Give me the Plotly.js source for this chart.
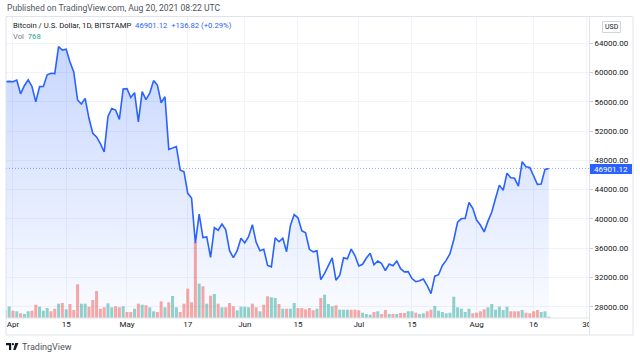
<!DOCTYPE html>
<html><head><meta charset="utf-8">
<script src="https://cdn.plot.ly/plotly-3.0.1.min.js"></script>
<style>html,body{margin:0;padding:0;background:#fff}#chart{width:640px;height:358px}</style>
</head><body><div id="chart"></div>
<script>
// ---------------- DATA ----------------
const startDate = '2021-03-29';            // first daily close in the series
const closePrices = [
  57600, 58750, 58800,
  // April
  58750, 58980, 57100, 58200, 59000, 58100, 56000, 58080, 58100, 59700,
  59900, 59850, 63550, 63080, 63200, 61450, 60100, 56250, 55700, 56480,
  53750, 51700, 51200, 50300, 49150, 54000, 55100, 54880, 53600, 57750,
  // May
  57800, 56600, 57250, 53250, 57400, 56300, 57200, 58900, 58300, 55880,
  56700, 49500, 49700, 49900, 46700, 46450, 43500, 42850, 36700, 40650,
  37450, 37550, 34750, 38800, 38450, 39300, 38500, 35650, 34700, 35650, 37350,
  // June
  36720, 37560, 39220, 36800, 35650, 35850, 33650, 33450, 37420, 36880,
  37350, 35520, 39080, 40600, 40150, 38400, 38100, 35850, 35500, 35650,
  31700, 32550, 33700, 34680, 31620, 32300, 34680, 34550, 35880, 35000,
  // July
  33580, 33800, 34650, 35300, 33720, 34250, 33900, 32950, 33830, 33600,
  34250, 33200, 32760, 32800, 31850, 31420, 31560, 31780, 30900, 29800,
  32180, 32380, 33650, 34330, 35250, 37150, 39550, 40050, 40050, 42250, 41450,
  // August
  39850, 39170, 38230, 39700, 40950, 42830, 44620, 43900, 46250, 45620,
  45550, 44480, 47820, 47130, 47030, 45900, 44720, 44780, 46764, 46901.12
];
// daily volume (BTC), starting 2021-03-30
const volumes = [
  5160, 6960, 4380, 4020, 2820, 2400, 4020, 4380, 7980, 6780,
  4380, 6000, 4020, 5580, 8580, 9000, 5220, 8400, 4800, 20220,
  8580, 8580, 6780, 10800, 16200, 5580, 6420, 8820, 6420, 7020,
  6420, 7020, 3600, 3600, 5580, 8580, 7980, 7620, 6420, 4020,
  3600, 10020, 6420, 9420, 13200, 6420, 3600, 8580, 17580, 9420,
  45600, 20580, 19020, 8580, 13380, 14400, 8580, 6420, 6420, 9000,
  7020, 4620, 6780, 6780, 6420, 8580, 6420, 4020, 7980, 13020,
  12420, 12000, 8400, 5580, 5580, 5580, 9000, 6000, 6000, 5220,
  6000, 4620, 5580, 12000, 13980, 8400, 7020, 7620, 4980, 4980,
  4980, 4980, 4980, 4620, 3180, 2400, 1980, 3600, 4020, 2400,
  4800, 2400, 2400, 2400, 3000, 3000, 4020, 4020, 3180, 2400,
  2820, 4020, 4980, 7200, 4380, 3600, 2820, 3180, 12780, 6420,
  5580, 3600, 5580, 2820, 3180, 4020, 5220, 6420, 8400, 4980,
  6780, 4800, 6780, 4020, 4020, 4020, 4800, 3180, 2820, 4020,
  4800, 3600, 4020, 768
];
// bar direction per day: T = up (teal), R = down (red)
const volDir =
  "TTRTRTTRRT" + "TTRRTRTRRR" + "TTRRRRRTTR" + "RTRRTRTRTT" + "RRTRTTRRRR" +
  "RTRTRTRTRR" + "RTTTTRRTRR" + "TTRTRTTRRR" + "RRTRTTTRTT" + "TRRRTTTRTR" +
  "RTRTRRTTRT" + "TRRTTTTTTT" + "TTTRRRRTTT" + "TTTRRRTRRR" + "RTTT";
const priceTicks = [28000, 32000, 36000, 40000, 44000, 48000, 52000, 56000, 60000, 64000];
const timeTickDates = ['2021-04-01','2021-04-15','2021-05-01','2021-05-17','2021-06-01',
  '2021-06-15','2021-07-01','2021-07-15','2021-08-01','2021-08-16','2021-08-30'];
const timeTickLabels = ['Apr','15','May','17','Jun','15','Jul','15','Aug','16','30'];
const lastPrice = 46901.12, priceChange = 136.82, priceChangePct = 0.29, lastVolume = 768;

// ---------------- BUILD ----------------
function dayString(i) {
  const d = new Date(Date.parse(startDate + 'T00:00:00Z') + i * 86400000);
  return d.toISOString().slice(0, 10);
}
const dates = closePrices.map((_, i) => dayString(i));
const volDates = volumes.map((_, i) => dayString(i + 1));
const TEAL = 'rgba(38,166,154,0.5)', RED = 'rgba(239,83,80,0.5)';
const volColors = volumes.map((_, i) => volDir[i] === 'T' ? TEAL : RED);

const W = 640, H = 358, ML = 6, MR = 51, MT = 17, MB = 40;
const PW = W - ML - MR, PH = H - MT - MB;
const px = x => (x - ML) / PW;          // pixel -> paper x
const py = y => (H - MB - y) / PH;      // pixel -> paper y
const yMin = 26460, yMax = 67594;
const FONT = 'Roboto, "Liberation Sans", sans-serif';

const traces = [
  { type: 'bar', x: volDates, y: volumes, yaxis: 'y2',
    marker: { color: volColors, line: { width: 0 } }, hoverinfo: 'skip' },
  { type: 'scatter', mode: 'lines', x: dates, y: closePrices,
    line: { color: '#2962ff', width: 1.6 },
    fill: 'tozeroy', fillcolor: 'rgba(41,98,255,0.12)',
    fillgradient: { type: 'vertical', start: yMin, stop: 64000,
      colorscale: [[0, 'rgba(41,98,255,0.02)'], [1, 'rgba(41,98,255,0.26)']] },
    hoverinfo: 'skip' }
];

const lineCol = '#e0e3eb';
const shapes = [
  // last price dotted line
  { type: 'line', xref: 'paper', yref: 'y', x0: 0, x1: 1, y0: lastPrice, y1: lastPrice,
    line: { color: 'rgba(41,98,255,0.55)', width: 1, dash: '1px,2px' }, layer: 'above' },
  // cover bottom-right corner of time scale
  { type: 'rect', xref: 'paper', yref: 'paper', x0: px(589.5), x1: px(633), y0: py(334.5), y1: py(318.5),
    fillcolor: '#ffffff', line: { width: 0 }, layer: 'above' },
  // frame
  { type: 'line', xref: 'paper', yref: 'paper', x0: px(6), x1: px(633), y0: py(16.5), y1: py(16.5), line: { color: lineCol, width: 1 }, layer: 'above' },
  { type: 'line', xref: 'paper', yref: 'paper', x0: px(6), x1: px(633), y0: py(335), y1: py(335), line: { color: lineCol, width: 1 }, layer: 'above' },
  { type: 'line', xref: 'paper', yref: 'paper', x0: px(6), x1: px(6), y0: py(16.5), y1: py(335), line: { color: lineCol, width: 1 }, layer: 'above' },
  { type: 'line', xref: 'paper', yref: 'paper', x0: px(633), x1: px(633), y0: py(16.5), y1: py(335), line: { color: lineCol, width: 1 }, layer: 'above' },
  { type: 'line', xref: 'paper', yref: 'paper', x0: px(589.5), x1: px(589.5), y0: py(16.5), y1: py(335), line: { color: lineCol, width: 1 }, layer: 'above' },
  { type: 'line', xref: 'paper', yref: 'paper', x0: px(6), x1: px(589.5), y0: py(318), y1: py(318), line: { color: lineCol, width: 1 }, layer: 'above' },
  // price label box
  { type: 'rect', xref: 'paper', yref: 'paper', x0: px(590), x1: px(632), y0: py(174), y1: py(164),
    fillcolor: '#2962ff', line: { width: 0 }, layer: 'above' },
  // USD box
  { type: 'rect', xref: 'paper', yref: 'paper', x0: px(602.5), x1: px(620.5), y0: py(32.5), y1: py(21.5),
    fillcolor: '#ffffff', line: { color: '#d1d4dc', width: 1 }, layer: 'above' },
  // TradingView logo
  { type: 'path', xref: 'paper', yref: 'paper', layer: 'above', fillcolor: '#131722', line: { width: 0 },
    path: `M${px(6)},${py(343)} L${px(11.2)},${py(343)} L${px(11.2)},${py(350)} L${px(9)},${py(350)} L${px(9)},${py(345.2)} L${px(6)},${py(345.2)} Z` },
  { type: 'circle', xref: 'paper', yref: 'paper', layer: 'above', fillcolor: '#131722', line: { width: 0 },
    x0: px(11.8), x1: px(14), y0: py(345.3), y1: py(343.1) },
  { type: 'path', xref: 'paper', yref: 'paper', layer: 'above', fillcolor: '#131722', line: { width: 0 },
    path: `M${px(15.2)},${py(343)} L${px(18.4)},${py(343)} L${px(15.6)},${py(350)} L${px(13.2)},${py(350)} Z` }
];

function note(text, x, y, size, color, extra) {
  return Object.assign({ text, xref: 'paper', yref: 'paper', x: px(x), y: py(y),
    xanchor: 'left', yanchor: 'middle', showarrow: false, borderpad: 0,
    font: { family: FONT, size, color } }, extra || {});
}
const headerLine = 'Bitcoin / U.S. Dollar, 1D, BITSTAMP&nbsp;&nbsp;<span style="color:#2962ff">' +
  lastPrice.toFixed(2) + '&nbsp;&nbsp;+' + priceChange.toFixed(2) + ' (+' + priceChangePct.toFixed(2) + '%)</span>';
const annotations = [
  note('Published on TradingView.com, Aug 20, 2021 08:22 UTC', 6, 8.5, 8.6, '#50535e'),
  note(headerLine, 11.5, 25.5, 7.7, '#131722'),
  note('Vol&nbsp;&nbsp;<span style="color:#26a69a">' + lastVolume + '</span>', 11.5, 36.5, 7.7, '#787b86'),
  note('USD', 611.5, 27, 7, '#131722', { xanchor: 'center' }),
  note(lastPrice.toFixed(2), 611, 169, 8, '#ffffff', { xanchor: 'center' }),
  note('TradingView', 20.5, 346.5, 9, '#50535e')
];

const layout = {
  width: W, height: H, autosize: false,
  margin: { l: ML, r: MR, t: MT, b: MB, pad: 0 },
  paper_bgcolor: '#ffffff', plot_bgcolor: '#ffffff',
  showlegend: false, bargap: 0.21,
  font: { family: FONT, size: 8, color: '#131722' },
  xaxis: { type: 'date', range: ['2021-03-30 04:00', '2021-08-30 14:00'],
    tickmode: 'array', tickvals: timeTickDates, ticktext: timeTickLabels,
    showgrid: true, gridcolor: '#f0f3fa', gridwidth: 1, zeroline: false, showline: false,
    ticks: '', tickfont: { family: FONT, size: 8, color: '#131722' }, fixedrange: true },
  yaxis: { side: 'right', range: [yMin, yMax], tickmode: 'array', tickvals: priceTicks,
    tickformat: '.2f', showgrid: true, gridcolor: '#f0f3fa', gridwidth: 1,
    zeroline: false, showline: false, ticks: 'outside', ticklen: 3, tickcolor: '#c9ccd6',
    tickfont: { family: FONT, size: 8, color: '#131722' }, fixedrange: true },
  yaxis2: { overlaying: 'y', range: [0, 180600], visible: false, fixedrange: true },
  shapes, annotations
};

Plotly.newPlot('chart', traces, layout, { staticPlot: true, displayModeBar: false });
</script>
</body></html>
